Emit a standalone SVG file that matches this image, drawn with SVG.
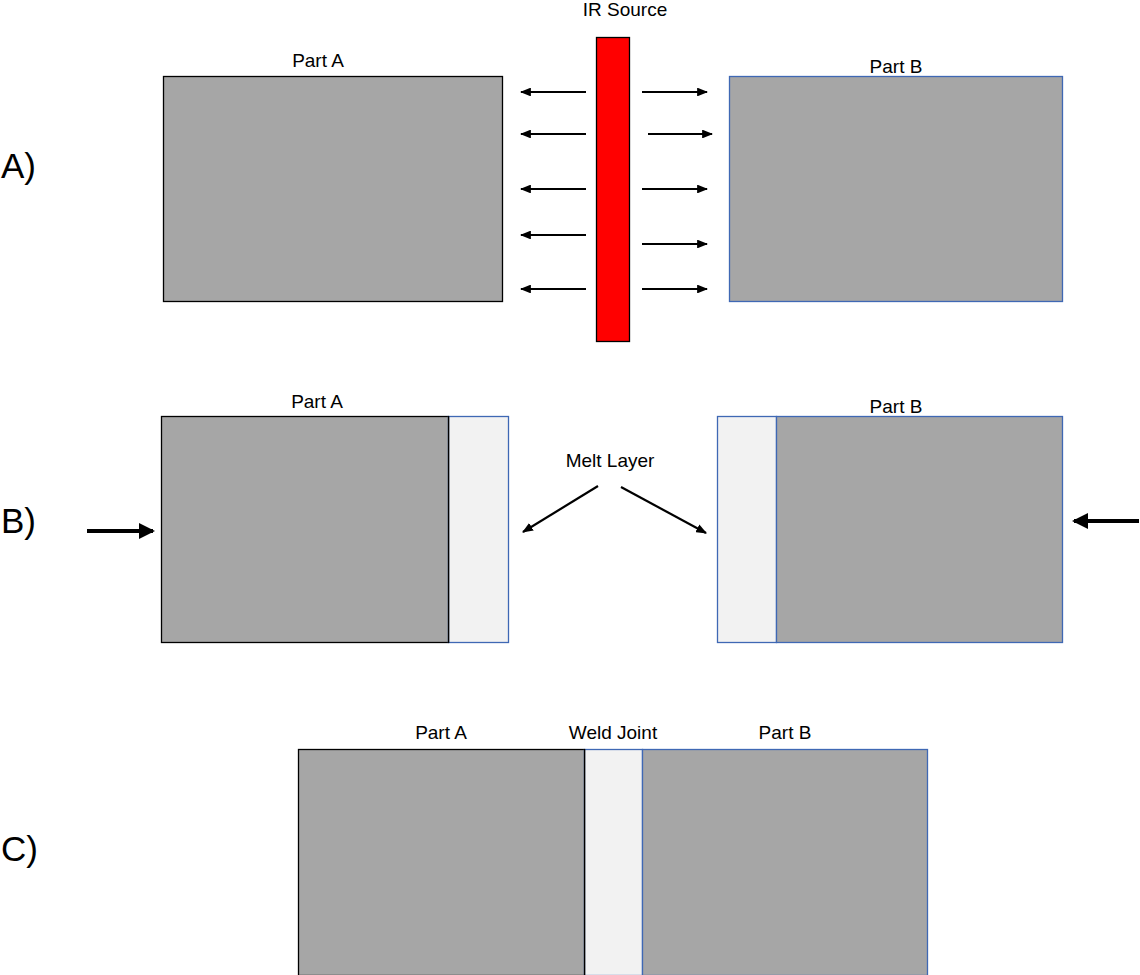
<svg xmlns="http://www.w3.org/2000/svg" width="1140" height="975" viewBox="0 0 1140 975">
<style>
.lbl{font-family:"Liberation Sans",Arial,sans-serif;font-size:19px;fill:#000;text-anchor:middle}
.row{font-family:"Liberation Sans",Arial,sans-serif;font-size:35px;fill:#000}
.gA{fill:#a6a6a6;stroke:#000;stroke-width:1.3}
.gB{fill:#a6a6a6;stroke:#3f68b4;stroke-width:1.3}
.melt{fill:#f2f2f2;stroke:#3f68b4;stroke-width:1.3}
.ray{stroke:#000;stroke-width:2.2;fill:none;marker-end:url(#ah)}
.push{stroke:#000;stroke-width:4;fill:none;marker-end:url(#ahb)}
</style>
<defs>
<marker id="ah" markerWidth="5" markerHeight="4" refX="4.5" refY="2" orient="auto" markerUnits="strokeWidth"><path d="M0,0 L5,2 L0,4 Z" fill="#000"/></marker>
<marker id="ahb" markerWidth="4" markerHeight="4" refX="3.5" refY="2" orient="auto" markerUnits="strokeWidth"><path d="M0,0 L4,2 L0,4 Z" fill="#000"/></marker>
</defs>
<rect width="1140" height="975" fill="#fff"/>
<text class="row" x="1" y="178">A)</text>
<text class="row" x="1" y="533">B)</text>
<text class="row" x="1" y="861">C)</text>
<g id="rowA">
<g id="a-partA"><rect class="gA" x="163.5" y="76.5" width="339" height="225"/><text class="lbl" x="318" y="67">Part A</text></g>
<g id="a-partB"><rect class="gB" x="729.5" y="76.5" width="333" height="225"/><text class="lbl" x="896" y="73">Part B</text></g>
<g id="a-ir"><rect x="596.5" y="37.5" width="33" height="304" fill="#ff0000" stroke="#000" stroke-width="1.3"/><text class="lbl" x="625" y="16">IR Source</text></g>
</g>
<g id="rowB">
<g id="b-partA"><rect class="gA" x="161.5" y="416.5" width="287" height="226"/><rect class="melt" x="448.5" y="416.5" width="60" height="226"/><rect x="448" y="416" width="1.3" height="227" fill="#000"/><text class="lbl" x="317" y="408">Part A</text></g>
<g id="b-partB"><rect class="melt" x="717.5" y="416.5" width="59" height="226"/><rect class="gB" x="776.5" y="416.5" width="286" height="226"/><text class="lbl" x="896" y="413">Part B</text></g>
<g id="b-melt"><text class="lbl" x="610" y="467">Melt Layer</text></g>
</g>
<g id="rowC">
<g id="c-partA"><rect class="gA" x="298.5" y="749.5" width="286" height="226"/><text class="lbl" x="441" y="739">Part A</text></g>
<g id="c-weld"><rect class="melt" x="584.5" y="749.5" width="58" height="226"/><rect x="584" y="749" width="1.3" height="227" fill="#000"/><text class="lbl" x="613" y="739">Weld Joint</text></g>
<g id="c-partB"><rect class="gB" x="642.5" y="749.5" width="285" height="226"/><text class="lbl" x="785" y="739">Part B</text></g>
</g>
<g id="connectors">
<line class="ray" x1="586" y1="92" x2="521" y2="92"/>
<line class="ray" x1="586" y1="134" x2="521" y2="134"/>
<line class="ray" x1="586" y1="189" x2="521" y2="189"/>
<line class="ray" x1="586" y1="235" x2="521" y2="235"/>
<line class="ray" x1="586" y1="289" x2="521" y2="289"/>
<line class="ray" x1="642" y1="92" x2="707" y2="92"/>
<line class="ray" x1="648" y1="134" x2="712" y2="134"/>
<line class="ray" x1="642" y1="189" x2="707" y2="189"/>
<line class="ray" x1="642" y1="244" x2="707" y2="244"/>
<line class="ray" x1="642" y1="289" x2="707" y2="289"/>
<line class="ray" x1="598" y1="486" x2="523" y2="532"/>
<line class="ray" x1="621" y1="487" x2="706" y2="533"/>
<line class="push" x1="87" y1="531" x2="153" y2="531"/>
<line class="push" x1="1139" y1="521" x2="1074" y2="521"/>
</g>
</svg>
